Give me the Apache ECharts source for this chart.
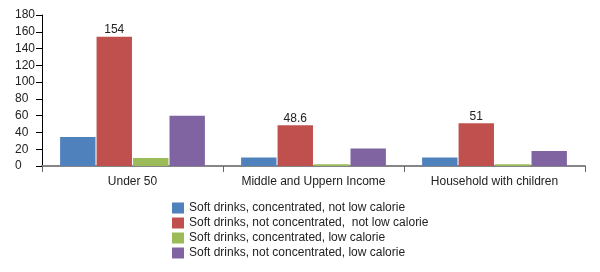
<!DOCTYPE html>
<html><head><meta charset="utf-8">
<script src="https://cdn.jsdelivr.net/npm/echarts@6/dist/echarts.min.js"></script>
<style>html,body{margin:0;padding:0;background:#fff}#c{width:600px;height:272px}</style>
</head><body><div id="c"></div>
<script>
const categories = ['Under 50', 'Middle and Uppern Income', 'Household with children'];
const seriesNames = [
  'Soft drinks, concentrated, not low calorie',
  'Soft drinks, not concentrated,  not low calorie',
  'Soft drinks, concentrated, low calorie',
  'Soft drinks, not concentrated, low calorie'
];
const concNotLow = [34.5, 10, 10];
const notConcNotLow = [154, 48.6, 51];
const concLow = [9.5, 2, 2];
const notConcLow = [60, 21, 18];
const yTicks = {min: 0, max: 180, interval: 20};
const colors = ['#4F81BD', '#C0504D', '#9BBB59', '#8064A2'];
const values = [concNotLow, notConcNotLow, concLow, notConcLow];
const font = 'Liberation Sans, Arial, sans-serif';

const chart = echarts.init(document.getElementById('c'), null, {renderer: 'canvas'});
chart.setOption({
  animation: false,
  textStyle: {fontFamily: font},
  grid: {left: 42, right: 15, top: 15, bottom: 106, containLabel: false},
  legend: {
    orient: 'vertical', left: 172, top: 202, padding: 0,
    itemWidth: 12, itemHeight: 11, itemGap: 3, icon: 'rect',
    textStyle: {fontSize: 12, color: '#222', fontFamily: font},
    data: seriesNames
  },
  xAxis: {
    type: 'category', data: categories,
    axisLine: {lineStyle: {color: '#868686', width: 2}},
    axisTick: {show: true, length: 6, interval: 0, lineStyle: {color: '#666', width: 1}},
    axisLabel: {fontSize: 12, color: '#222', margin: 10, interval: 0, fontFamily: font}
  },
  yAxis: {
    type: 'value', min: yTicks.min, max: yTicks.max, interval: yTicks.interval,
    axisLine: {show: true, lineStyle: {color: '#000'}},
    axisTick: {show: true, length: 6, lineStyle: {color: '#000'}},
    splitLine: {show: false},
    axisLabel: {fontSize: 12, color: '#222', align: 'left', margin: 27, fontFamily: font}
  },
  series: seriesNames.map((n, i) => ({
    name: n, type: 'bar', data: values[i],
    barGap: '3%', barCategoryGap: '20%',
    itemStyle: {color: colors[i]},
    label: i === 1 ? {show: true, position: 'top', distance: 1, fontSize: 12, color: '#222', fontFamily: font} : {show: false}
  }))
});
</script></body></html>
